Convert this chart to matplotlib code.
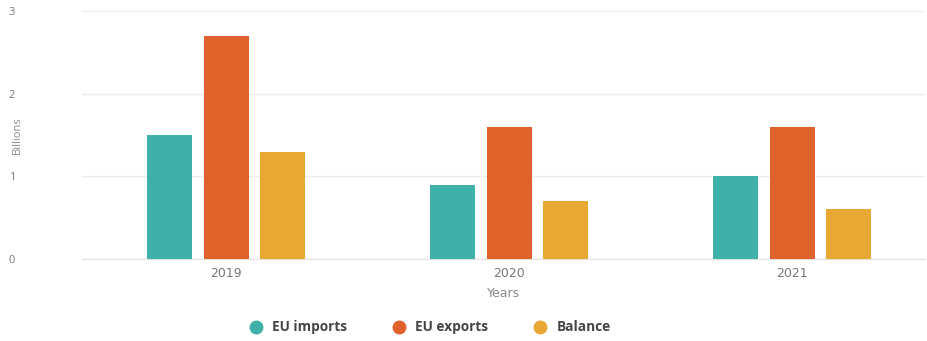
import numpy as np
import matplotlib
matplotlib.use("Agg")
import matplotlib.pyplot as plt
from matplotlib.lines import Line2D

# values
years = ["2019", "2020", "2021"]
eu_imports = [1.5, 0.9, 1.0]
eu_exports = [2.7, 1.6, 1.6]
balance = [1.3, 0.7, 0.6]

series = [("EU imports", eu_imports, "#3fb1a8"),
          ("EU exports", eu_exports, "#e0622b"),
          ("Balance", balance, "#e8a833")]

plt.rcParams["font.family"] = ["Open Sans", "DejaVu Sans"]

fig = plt.figure(figsize=(9.28, 3.41), dpi=100)
ax = fig.add_axes([0.088, 0.2405, 0.909, 0.727])

x = np.arange(len(years))
w = 0.159
step = 0.2
for i, (name, vals, col) in enumerate(series):
    ax.bar(x + (i - 1) * step, vals, width=w, color=col, label=name, zorder=3)

ax.set_xlim(-0.51, 2.47)
ax.set_ylim(0, 3)
ax.set_yticks([0, 1, 2, 3])
ax.set_xticks(x)
ax.set_xticklabels(years)
ax.grid(axis="y", color="#ececec", linewidth=1, zorder=0)
for s in ["top", "right", "left"]:
    ax.spines[s].set_visible(False)
ax.spines["bottom"].set_color("#e2e2e2")
ax.tick_params(axis="both", length=0, colors="#777777")
ax.tick_params(axis="y", pad=48, labelsize=8)
ax.tick_params(axis="x", pad=6, labelsize=9)
for lbl in ax.get_xticklabels():
    lbl.set_family("DejaVu Sans")

ax.set_ylabel("Billions", fontsize=8, color="#888888")
ax.yaxis.set_label_coords(-0.07, 0.5)
ax.set_xlabel("Years", fontsize=9, color="#888888", labelpad=5, family="DejaVu Sans")

handles = [Line2D([], [], marker="o", linestyle="none", markersize=9,
                  color=col, label=name) for name, _, col in series]
leg = fig.legend(handles=handles, loc="center", bbox_to_anchor=(0.463, 0.04), ncol=3,
                 frameon=False, fontsize=9.8, handlelength=1.0, columnspacing=3.3,
                 handletextpad=0.7)
for t in leg.get_texts():
    t.set_fontweight("bold")
    t.set_color("#444444")

fig.savefig("out.png", dpi=100)
